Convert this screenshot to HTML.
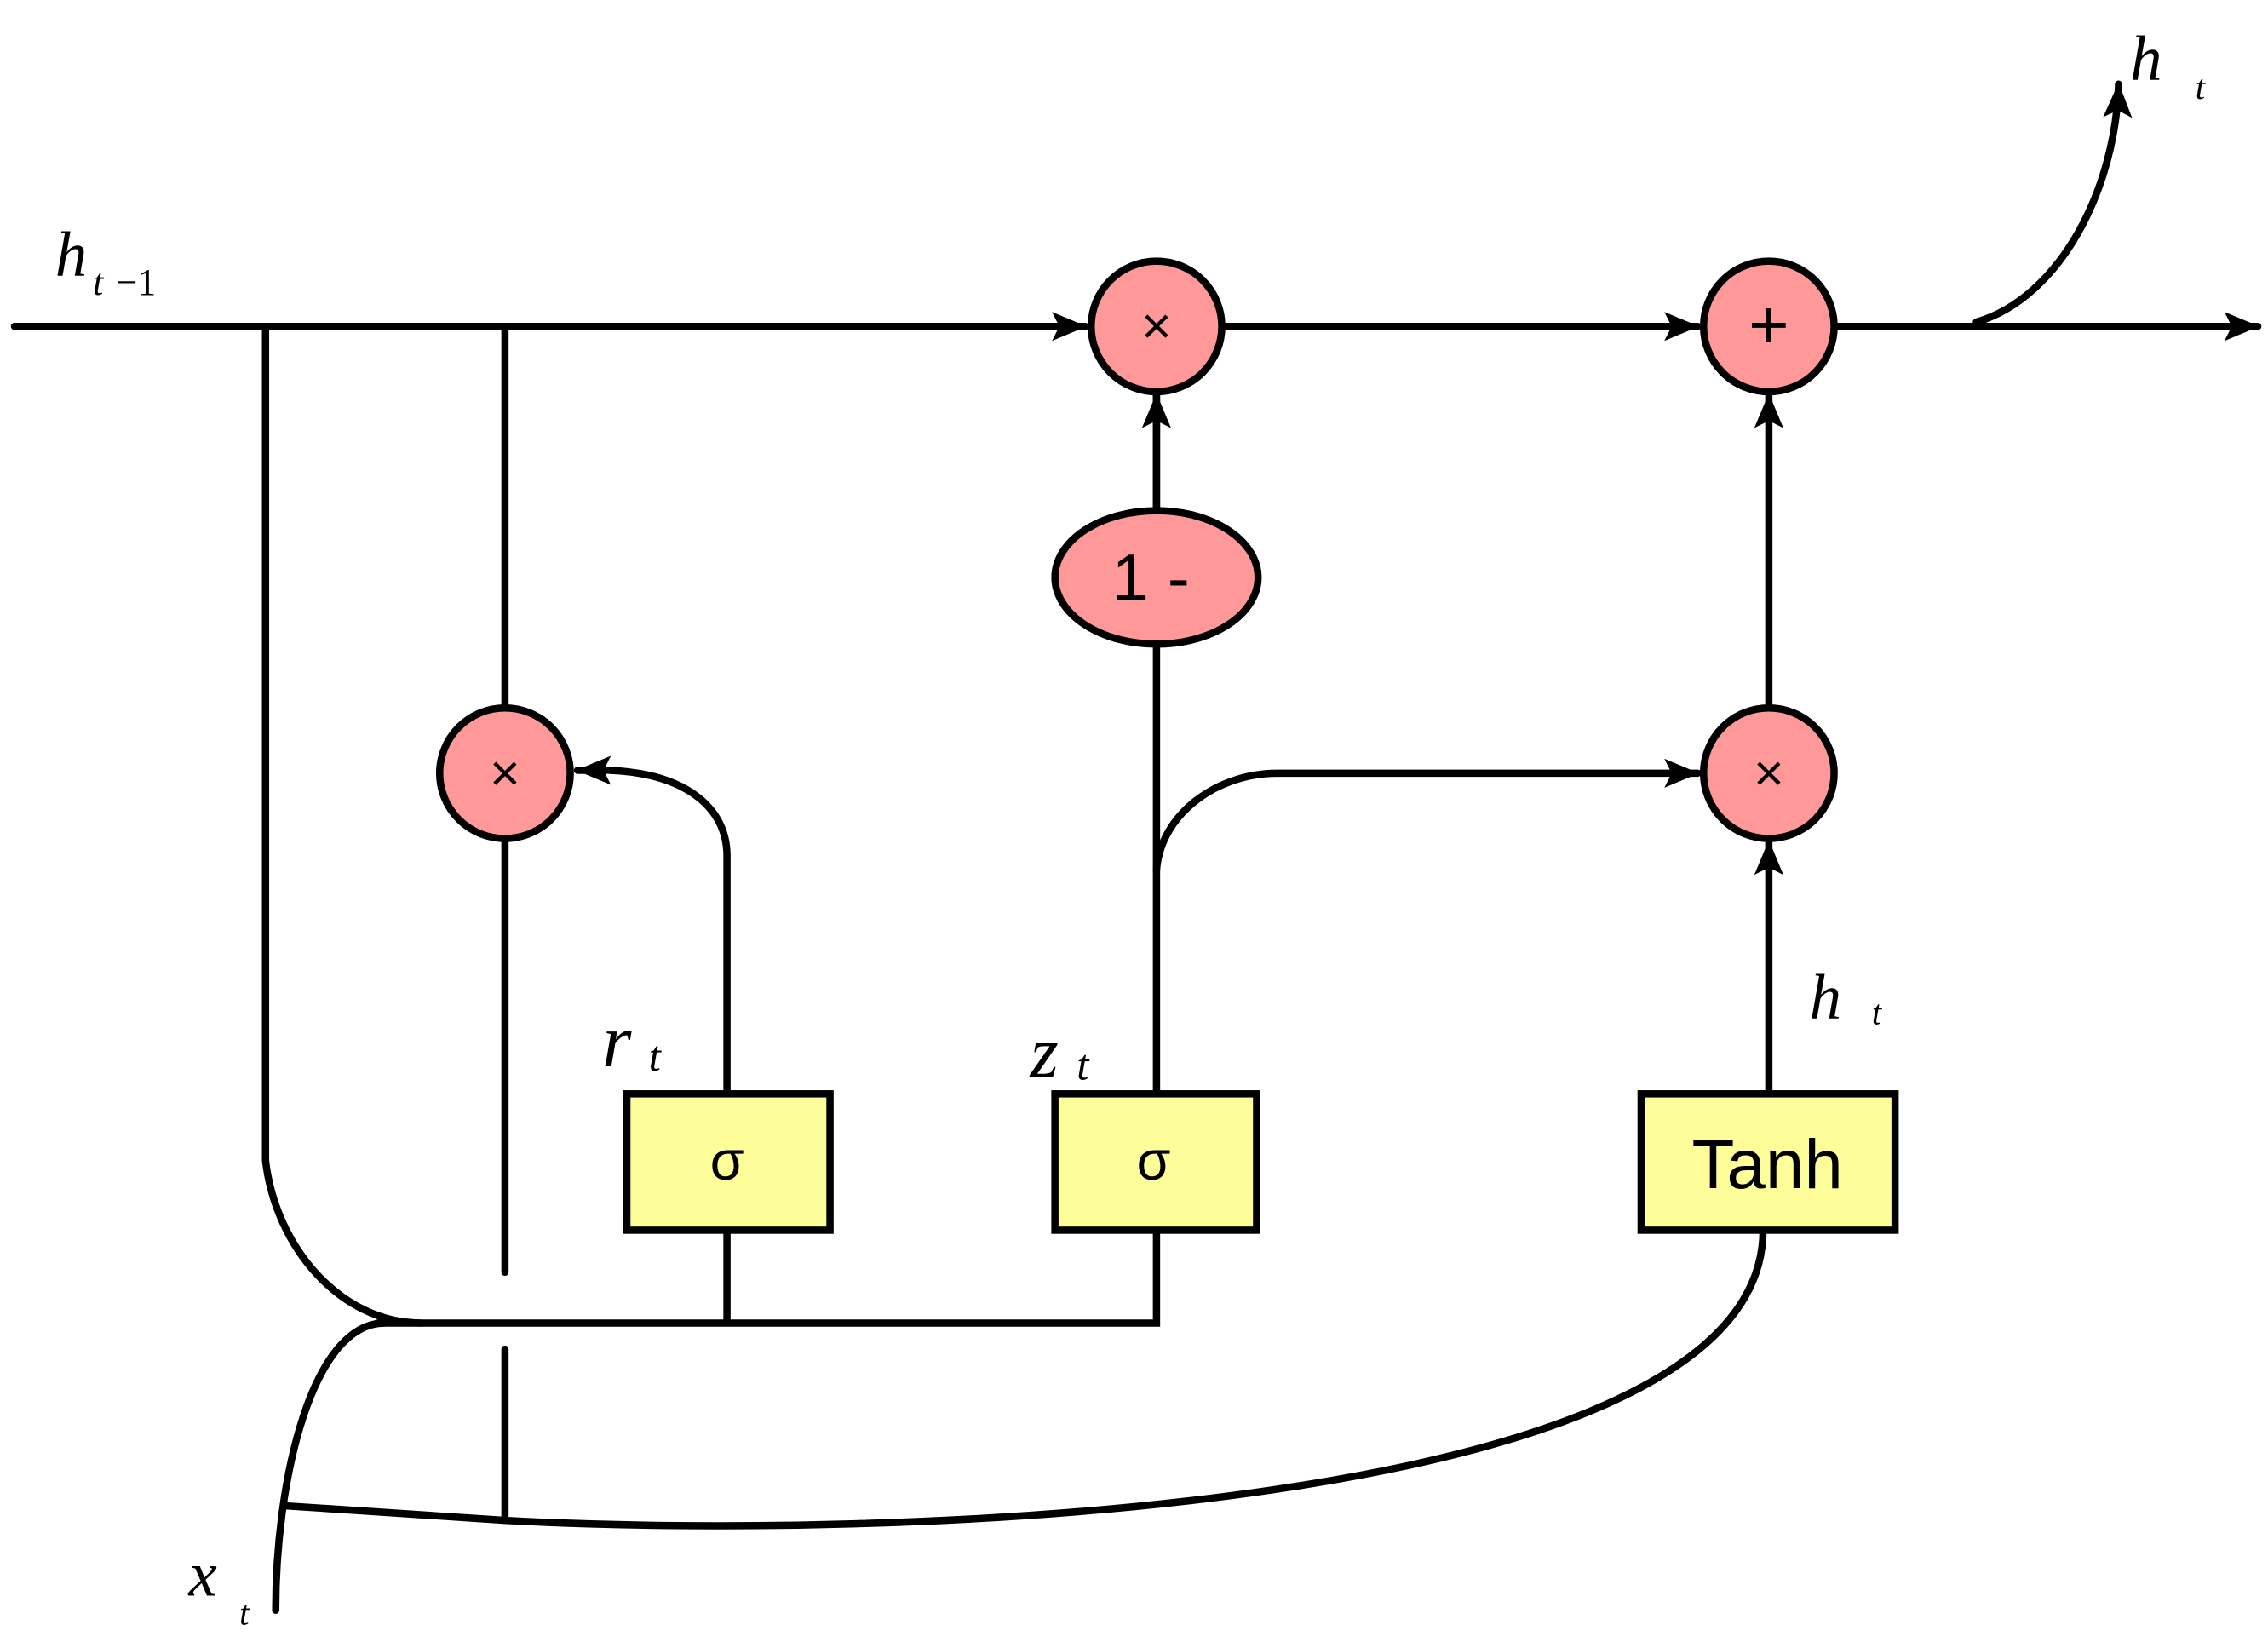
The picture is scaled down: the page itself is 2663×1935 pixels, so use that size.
<!DOCTYPE html>
<html><head><style>body{margin:0;background:#fff}svg{display:block}</style></head><body>
<svg width="2663" height="1935" viewBox="0 0 1563 1136" preserveAspectRatio="none" xmlns="http://www.w3.org/2000/svg">
<defs><marker id="a" markerWidth="8" markerHeight="8" refX="7" refY="4" orient="auto" markerUnits="userSpaceOnUse" viewBox="0 0 8 8"><path d="M0,0L8,4L0,8z" fill="#000"/></marker>
<marker id="b" markerWidth="24" markerHeight="20" refX="23" refY="10" orient="auto" markerUnits="userSpaceOnUse"><path d="M0,0L24,10L0,20L5,10z" fill="#000"/></marker></defs>
<g stroke="#000" stroke-width="5" fill="none" stroke-linecap="round">
<path d="M10,225H748" marker-end="url(#b)"/>
<path d="M843,225H1170" marker-end="url(#b)"/>
<path d="M1265,225H1556" marker-end="url(#b)"/>
<path d="M1362,222C1420,205 1458,130 1460,58" marker-end="url(#b)"/>
<path d="M183,225V800C190,860 235,912 290,912"/>
<path d="M348,225V487M348,578V877M348,930V1048"/>
<path d="M501,752V590C501,555 470,533 420,531" />
<path d="M418,531L398,531" marker-end="url(#b)"/>
<path d="M797,752V445M797,352V272"/>
<path d="M797,352V272" marker-end="url(#b)"/>
<path d="M797,600C800,560 840,533 880,533H1170" marker-end="url(#b)"/>
<path d="M1219,752V580" marker-end="url(#b)"/>
<path d="M1219,487V272" marker-end="url(#b)"/>
<path d="M260,912H797V848M501,848V912"/>
<path d="M190,1110C190,1020 215,912 265,912"/>
<path d="M197,1038L348,1048C600,1062 1215,1045 1215,848"/>
</g>
<g stroke="#000" stroke-width="5" fill="#f99">
<circle cx="797" cy="225" r="45"/><circle cx="1219" cy="225" r="45"/>
<circle cx="348" cy="533" r="45"/><circle cx="1219" cy="533" r="45"/>
<ellipse cx="797" cy="398" rx="70" ry="46"/>
</g>
<g stroke="#000" stroke-width="5" fill="#fd9">
<rect x="432" y="754" width="140" height="94" fill="#fdfd99"/>
<rect x="727" y="754" width="139" height="94" fill="#fdfd99"/>
<rect x="1131" y="754" width="175" height="94" fill="#fdfd99"/>
</g>
<g font-family="Liberation Sans, sans-serif" text-anchor="middle">
<text x="797" y="237" font-size="36">×</text>
<text x="348" y="545" font-size="36">×</text>
<text x="1219" y="545" font-size="36">×</text>
<text x="1219" y="240" font-size="48">+</text>
<text x="793" y="414" font-size="46">1 -</text>
<text x="501" y="813" font-size="38">σ</text>
<text x="795" y="813" font-size="38">σ</text>
<text x="1218" y="819" font-size="48">Tanh</text>
</g>
<g font-family="Liberation Serif, serif" font-style="italic">
<text x="38" y="190" font-size="44">h</text><text x="64" y="203" font-size="26">t</text><text x="80" y="203" font-size="26" font-style="normal">−1</text>
<text x="1468" y="55" font-size="44">h</text><text x="1513" y="68" font-size="24">t</text>
<text x="415" y="735" font-size="52">r</text><text x="447" y="738" font-size="30">t</text>
<text x="710" y="742" font-size="50">z</text><text x="742" y="744" font-size="30">t</text>
<text x="1247" y="702" font-size="44">h</text><text x="1290" y="706" font-size="24">t</text>
<text x="130" y="1100" font-size="44">x</text><text x="165" y="1120" font-size="24">t</text>
</g>
</svg>
</body></html>
